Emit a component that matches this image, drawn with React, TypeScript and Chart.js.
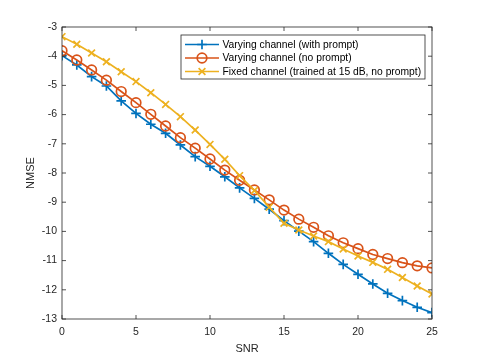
import React, { useEffect, useRef } from "react";
import { Chart, registerables } from "chart.js";
Chart.register(...registerables);

const snr = [0, 1, 2, 3, 4, 5, 6, 7, 8, 9, 10, 11, 12, 13, 14, 15, 16, 17, 18, 19, 20, 21, 22, 23, 24, 25];
const withPrompt = [-3.98, -4.3, -4.7, -5.02, -5.53, -5.96, -6.33, -6.64, -7.04, -7.44, -7.77, -8.13, -8.51, -8.87, -9.24, -9.63, -9.99, -10.35, -10.75, -11.13, -11.47, -11.8, -12.12, -12.37, -12.6, -12.78];
const noPrompt = [-3.81, -4.13, -4.47, -4.82, -5.21, -5.59, -5.99, -6.39, -6.79, -7.15, -7.52, -7.9, -8.25, -8.58, -8.92, -9.27, -9.58, -9.86, -10.15, -10.39, -10.59, -10.79, -10.93, -11.07, -11.18, -11.25];
const fixedChannel = [-3.33, -3.59, -3.89, -4.19, -4.53, -4.87, -5.25, -5.65, -6.07, -6.53, -7.02, -7.53, -8.09, -8.6, -9.17, -9.72, -9.95, -10.16, -10.35, -10.6, -10.84, -11.06, -11.3, -11.58, -11.87, -12.14];
const xTicks = [0, 5, 10, 15, 20, 25];
const yTicks = [-13, -12, -11, -10, -9, -8, -7, -6, -5, -4, -3];
const seriesLabels = [
  "Varying channel (with prompt)",
  "Varying channel (no prompt)",
  "Fixed channel (trained at 15 dB, no prompt)",
];
const seriesColors = ["#0072BD", "#D95319", "#EDB120"];
const seriesMarkers = ["cross", "circle", "crossRot"];
const xTitle = "SNR";
const yTitle = "NMSE";

const AXIS = "#262626";
const FONT = "'Liberation Sans', Arial, Helvetica, sans-serif";

function drawMarker(ctx: CanvasRenderingContext2D, style: string, x: number, y: number, r: number) {
  ctx.beginPath();
  if (style === "cross") {
    ctx.moveTo(x - r, y);
    ctx.lineTo(x + r, y);
    ctx.moveTo(x, y - r);
    ctx.lineTo(x, y + r);
  } else if (style === "crossRot") {
    const d = r * Math.SQRT1_2;
    ctx.moveTo(x - d, y - d);
    ctx.lineTo(x + d, y + d);
    ctx.moveTo(x - d, y + d);
    ctx.lineTo(x + d, y - d);
  } else {
    ctx.arc(x, y, r, 0, Math.PI * 2);
  }
  ctx.stroke();
}

const matlabPlugin = {
  id: "matlabDecor",
  afterDraw(chart: any) {
    const { ctx, chartArea: a, scales } = chart;
    const xs = scales.x;
    const ys = scales.y;
    ctx.save();
    ctx.strokeStyle = AXIS;
    ctx.lineWidth = 0.8;
    ctx.strokeRect(a.left, a.top, a.right - a.left, a.bottom - a.top);
    const tl = 4;
    ctx.beginPath();
    xTicks.forEach((v) => {
      const px = xs.getPixelForValue(v);
      ctx.moveTo(px, a.bottom);
      ctx.lineTo(px, a.bottom - tl);
      ctx.moveTo(px, a.top);
      ctx.lineTo(px, a.top + tl);
    });
    yTicks.forEach((v) => {
      const py = ys.getPixelForValue(v);
      ctx.moveTo(a.left, py);
      ctx.lineTo(a.left + tl, py);
      ctx.moveTo(a.right, py);
      ctx.lineTo(a.right - tl, py);
    });
    ctx.stroke();

    ctx.fillStyle = AXIS;
    ctx.font = `11px ${FONT}`;
    ctx.textAlign = "center";
    ctx.textBaseline = "middle";
    ctx.fillText(xTitle, (a.left + a.right) / 2, 349);
    ctx.save();
    ctx.translate(31, (a.top + a.bottom) / 2);
    ctx.rotate(-Math.PI / 2);
    ctx.fillText(yTitle, 0, 0);
    ctx.restore();

    const lx = 181, ly = 35, lw = 244, lh = 44;
    ctx.fillStyle = "#ffffff";
    ctx.fillRect(lx, ly, lw, lh);
    ctx.strokeStyle = AXIS;
    ctx.lineWidth = 0.8;
    ctx.strokeRect(lx, ly, lw, lh);
    ctx.font = `10.3px ${FONT}`;
    ctx.textAlign = "left";
    chart.data.datasets.forEach((ds: any, i: number) => {
      const ry = ly + 9.5 + i * 13.5;
      ctx.strokeStyle = ds.borderColor;
      ctx.lineWidth = 1.7;
      ctx.beginPath();
      ctx.moveTo(lx + 4, ry);
      ctx.lineTo(lx + 38, ry);
      ctx.stroke();
      drawMarker(ctx, ds.pointStyle, lx + 21, ry, ds.pointRadius);
      ctx.fillStyle = "#000000";
      ctx.fillText(ds.label, lx + 41.5, ry + 0.5);
    });
    ctx.restore();
  },
};

export default function App() {
  const ref = useRef<HTMLCanvasElement>(null);
  useEffect(() => {
    if (!ref.current) return;
    const series = [withPrompt, noPrompt, fixedChannel];
    const chart = new Chart(ref.current, {
      type: "line",
      data: {
        datasets: series.map((vals, i) => ({
          label: seriesLabels[i],
          data: snr.map((x, j) => ({ x, y: vals[j] })),
          borderColor: seriesColors[i],
          backgroundColor: "transparent",
          pointBorderColor: seriesColors[i],
          pointBackgroundColor: "transparent",
          pointStyle: seriesMarkers[i],
          pointRadius: seriesMarkers[i] === "circle" ? 4.8 : 4.8,
          pointBorderWidth: 1.7,
          borderWidth: 1.7,
          tension: 0,
          fill: false,
          order: 2 - i,
        })),
      },
      options: {
        responsive: false,
        animation: false,
        devicePixelRatio: 1,
        layout: { padding: { left: 0, right: 46, top: 27, bottom: 0 } },
        plugins: { legend: { display: false }, tooltip: { enabled: false } },
        scales: {
          x: {
            type: "linear",
            min: 0,
            max: 25,
            afterFit: (s: any) => { s.height = 40; },
            afterBuildTicks: (s: any) => { s.ticks = xTicks.map((v) => ({ value: v })); },
            ticks: { font: { size: 10.5, family: FONT }, color: AXIS, padding: 7, maxRotation: 0 },
            grid: { display: false, drawTicks: false },
            border: { display: false },
          },
          y: {
            type: "linear",
            min: -13,
            max: -3,
            afterFit: (s: any) => { s.width = 62; },
            afterBuildTicks: (s: any) => { s.ticks = yTicks.map((v) => ({ value: v })); },
            ticks: { font: { size: 10.5, family: FONT }, color: AXIS, padding: 5 },
            grid: { display: false, drawTicks: false },
            border: { display: false },
          },
        },
      },
      plugins: [matlabPlugin],
    } as any);
    return () => chart.destroy();
  }, []);
  return (
    <div style={{ position: "fixed", left: 0, top: 0, width: 478, height: 359, background: "#fff" }}>
      <canvas ref={ref} width={478} height={359} style={{ width: 478, height: 359 }} />
    </div>
  );
}
